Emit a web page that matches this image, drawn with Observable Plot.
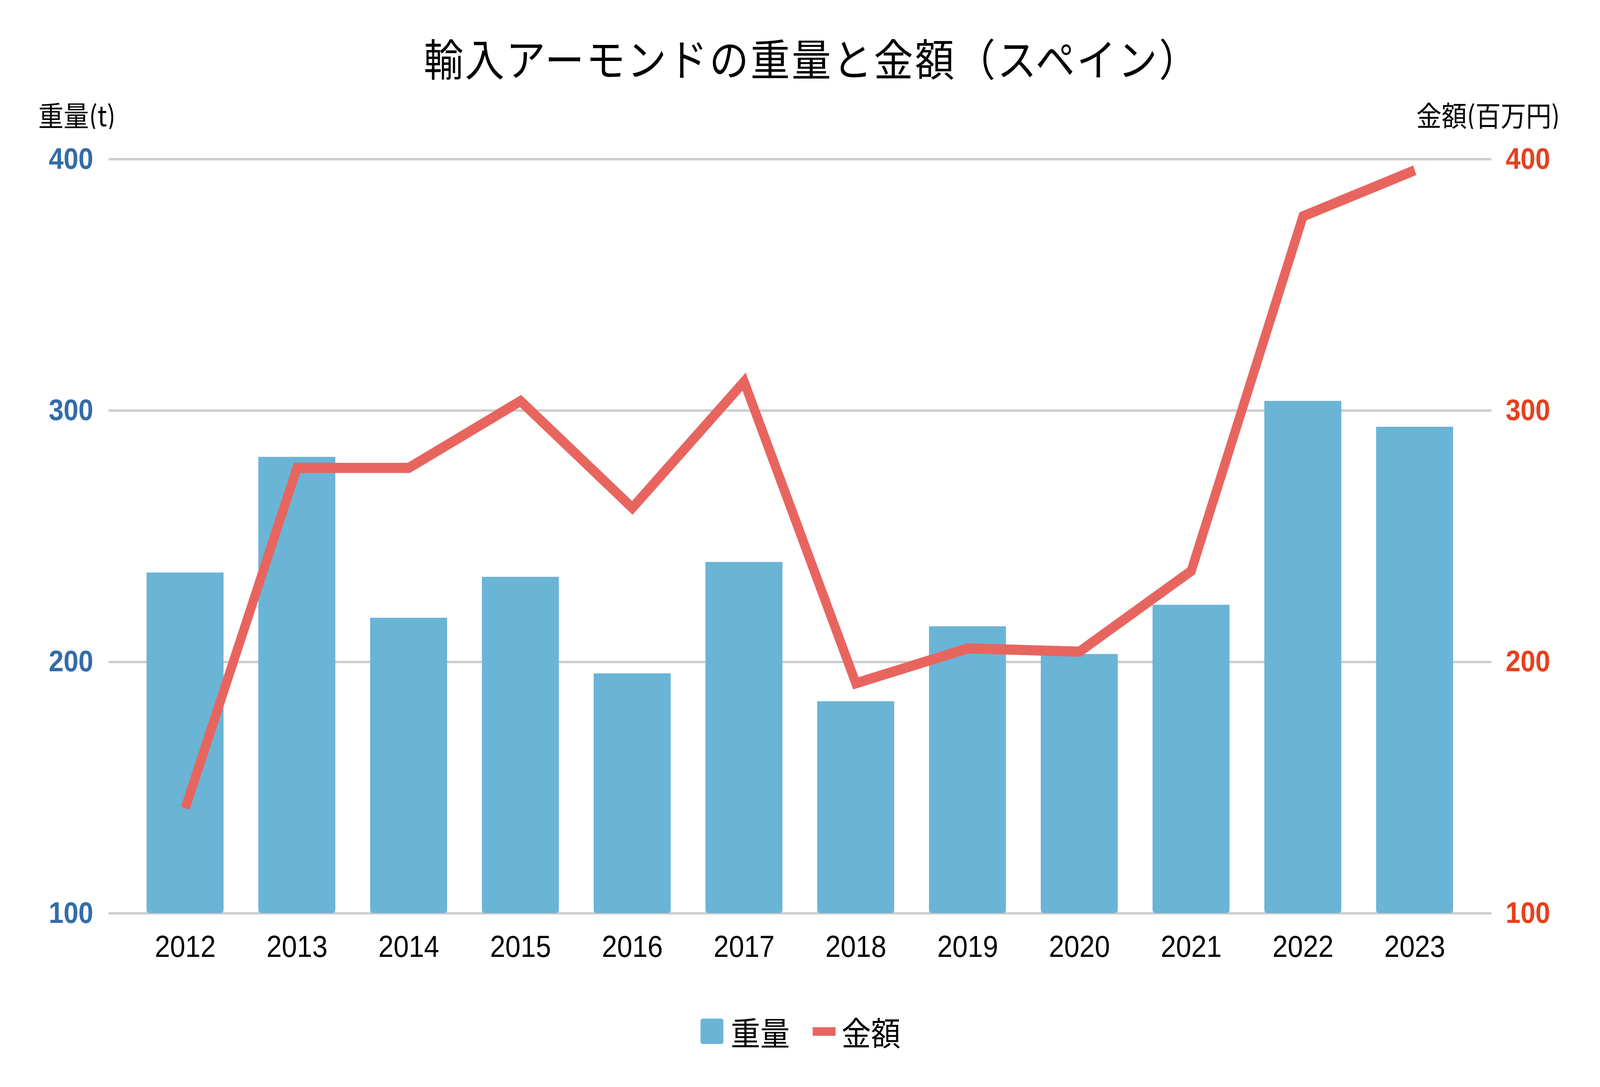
<!DOCTYPE html>
<html>
<head>
<meta charset="utf-8">
<script src="https://cdn.jsdelivr.net/npm/d3@7"></script>
<script src="https://cdn.jsdelivr.net/npm/@observablehq/plot@0.6"></script>
<style>
  html, body { margin: 0; padding: 0; background: #ffffff; overflow: hidden; }
  #fig { position: absolute; left: 0; top: 0; width: 4552px; height: 2782px; background: #ffffff; transform-origin: 0 0; }
  .jp { font-family: "Noto Sans CJK JP", "Noto Sans", sans-serif; color: #000; white-space: nowrap; }
  #title { position: absolute; left: 0; width: 4620px; text-align: center; top: 90px; font-size: 112px; line-height: 112px; font-weight: 400; letter-spacing: 5px; }
  #ylabL { position: absolute; left: 109px; top: 256px; font-size: 72px; line-height: 72px; }
  #ylabR { position: absolute; right: 114px; top: 256px; font-size: 72px; line-height: 72px; }
  #chart { position: absolute; left: 0; top: 330px; }
  #legend { position: absolute; left: 1993px; top: 2607px; height: 65px; display: flex; align-items: center; }
  .sw-bar { width: 65px; height: 65px; border-radius: 6px; background: #6ab4d6; margin-right: 21px; }
  .sw-line { width: 65px; height: 22px; background: #e8655f; margin-right: 17px; }
  .lt { font-size: 84px; line-height: 84px; }
</style>
</head>
<body>
<div id="fig">
  <div id="title" class="jp">輸入アーモンドの重量と金額（スペイン）</div>
  <div id="ylabL" class="jp">重量(t)</div>
  <div id="ylabR" class="jp">金額(百万円)</div>
  <div id="chart"></div>
  <div id="legend" class="jp">
    <div class="sw-bar"></div><span class="lt" style="margin-right:65px">重量</span>
    <div class="sw-line"></div><span class="lt">金額</span>
  </div>
</div>
<script>
const years = ["2012","2013","2014","2015","2016","2017","2018","2019","2020","2021","2022","2023"];
const weight = [235.5, 281.5, 217.5, 233.8, 195.4, 239.7, 184.3, 214.1, 203.1, 222.7, 303.8, 293.5];
const amount = [141.8, 277.2, 277.2, 303.8, 261.3, 311.5, 191.5, 205.4, 204.1, 236.2, 377.3, 395.6];
const yTicks = [100, 200, 300, 400];

const rows = years.map((y, i) => ({year: y, weight: weight[i], amount: amount[i]}));

const chart = Plot.plot({
  width: 4552,
  height: 2157,
  marginTop: 77,
  marginBottom: 150,
  marginLeft: 365,
  marginRight: 366,
  style: {fontFamily: "'Liberation Sans', Arial, sans-serif", background: "#ffffff", color: "#000000"},
  x: {type: "band", domain: years, paddingInner: 0.31, paddingOuter: 0.155, label: null},
  y: {domain: [100, 400], label: null},
  marks: [
    Plot.ruleY(yTicks, {stroke: "#cccccc", strokeWidth: 6, insetLeft: -56, insetRight: -57}),
    Plot.barY(rows, {x: "year", y1: 100, y2: "weight", fill: "#6ab4d6", ry2: 8}),
    Plot.line(rows, {x: "year", y: "amount", stroke: "#e8655f", strokeWidth: 26, strokeLinejoin: "miter", strokeLinecap: "butt", strokeMiterlimit: 10}),
    Plot.axisY(yTicks, {anchor: "left", tickSize: 0, tickPadding: 100, fontSize: 76, fontWeight: "bold", color: "#346ca9", fill: "#346ca9", label: null}),
    Plot.axisY(yTicks, {anchor: "right", tickSize: 0, tickPadding: 97, fontSize: 76, fontWeight: "bold", color: "#e8401e", fill: "#e8401e", label: null}),
    Plot.axisX({tickSize: 0, tickPadding: 56, fontSize: 78, color: "#000000", fill: "#000000", label: null})
  ]
});
document.getElementById("chart").appendChild(chart);

// The window may be narrower than the 4552px design; scale to fit it.
const fig = document.getElementById("fig");
const sx = Math.min(1, window.innerWidth / 4552);
const sy = Math.min(1, window.innerHeight / 2782);
fig.style.transform = `scale(${sx}, ${sy})`;
</script>
</body>
</html>
